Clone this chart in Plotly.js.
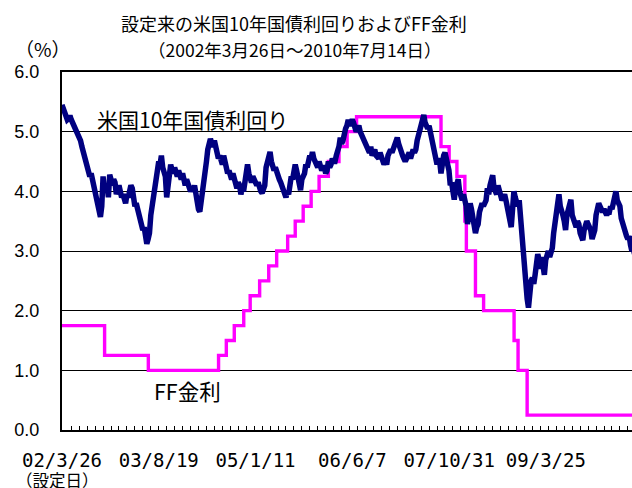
<!DOCTYPE html>
<html><head><meta charset="utf-8">
<script src="https://cdn.plot.ly/plotly-3.0.1.min.js"></script>
<style>html,body{margin:0;padding:0;overflow:hidden;background:#fff;width:632px;height:488px}</style>
</head><body><div id="chart" style="width:640px;height:488px"></div>
<script>
// US 10-year treasury yield, weekly readings from 2002-03-26
const yieldStart = '2002-03-26';
const yieldStepDays = 7;
const yield10y = [
5.45,5.38,5.3,5.25,5.2,5.22,5.27,5.2,5.15,5.12,5.1,5.05,5.0,4.92,4.85,4.75,4.65,4.6,4.5,4.4,
4.3,4.25,4.3,4.2,4.05,3.95,3.8,3.7,3.62,3.57,3.75,4.25,4.0,4.05,4.1,3.9,4.28,4.2,4.1,4.2,
4.15,3.95,4.05,4.1,4.0,3.9,3.95,3.85,3.8,3.95,3.9,4.0,4.1,4.05,3.95,3.75,3.8,3.7,3.6,3.5,
3.4,3.35,3.4,3.3,3.12,3.2,3.3,3.6,3.75,3.95,4.2,4.3,4.4,4.5,4.45,4.6,4.4,4.35,4.25,3.9,
4.05,4.2,4.45,4.35,4.3,4.4,4.35,4.25,4.35,4.3,4.2,4.3,4.2,4.1,4.2,4.15,4.05,4.0,4.05,4.0,
4.1,3.95,3.8,3.7,3.66,3.8,3.95,4.2,4.35,4.5,4.7,4.8,4.88,4.8,4.75,4.85,4.7,4.6,4.55,4.6,
4.5,4.45,4.6,4.5,4.4,4.3,4.35,4.25,4.2,4.3,4.2,4.1,4.05,4.15,4.1,3.95,4.05,4.0,4.2,4.35,
4.45,4.3,4.25,4.15,4.25,4.2,4.15,4.1,4.15,4.05,4.0,3.97,4.05,4.1,4.4,4.5,4.55,4.66,4.5,4.45,
4.35,4.4,4.3,4.25,4.2,4.15,4.1,4.0,3.95,3.9,4.0,3.95,4.1,4.25,4.2,4.35,4.45,4.35,4.25,4.1,
4.02,4.2,4.25,4.3,4.45,4.4,4.5,4.6,4.55,4.66,4.55,4.5,4.45,4.4,4.5,4.45,4.35,4.4,4.4,4.3,
4.35,4.5,4.4,4.45,4.55,4.5,4.5,4.6,4.65,4.75,4.9,4.8,4.85,5.0,5.05,5.1,5.2,5.1,5.15,5.2,
5.15,5.1,5.0,5.05,5.1,5.0,4.95,4.9,4.85,4.8,4.75,4.7,4.65,4.75,4.6,4.65,4.7,4.6,4.55,4.55,
4.65,4.6,4.5,4.45,4.5,4.45,4.6,4.65,4.7,4.65,4.7,4.75,4.85,4.9,4.8,4.7,4.65,4.6,4.55,4.5,
4.55,4.6,4.65,4.55,4.6,4.7,4.65,4.7,4.85,4.95,5.0,5.15,5.2,5.28,5.15,5.1,5.05,5.1,5.0,4.9,
4.75,4.7,4.6,4.45,4.55,4.5,4.3,4.5,4.6,4.65,4.55,4.45,4.35,4.1,4.15,4.0,3.86,4.05,4.1,4.2,
4.0,3.95,3.85,3.95,3.85,3.75,3.45,3.6,3.8,3.7,3.6,3.5,3.3,3.4,3.45,3.65,3.7,3.8,3.75,3.8,
3.85,4.05,3.95,4.1,4.2,4.27,4.05,4.0,3.95,4.1,4.0,3.95,3.85,3.9,3.95,3.85,3.75,3.6,3.55,3.4,
3.7,4.0,3.9,3.8,3.75,3.85,3.55,3.2,2.95,2.7,2.5,2.2,2.05,2.4,2.5,2.55,2.45,2.6,2.8,2.95,
2.85,2.7,2.9,2.75,2.6,2.85,2.95,3.0,2.9,2.95,3.05,3.3,3.45,3.6,3.8,3.95,3.75,3.7,3.6,3.5,
3.35,3.6,3.7,3.8,3.86,3.6,3.55,3.5,3.4,3.5,3.45,3.3,3.25,3.18,3.35,3.4,3.5,3.45,3.4,3.35,
3.2,3.3,3.35,3.6,3.7,3.8,3.75,3.7,3.65,3.7,3.65,3.6,3.65,3.65,3.75,3.7,3.8,3.95,4.0,3.85,
3.8,3.75,3.55,3.45,3.4,3.3,3.25,3.2,3.25,3.1,3.0,3.05,2.95
];

// FF rate (target) change dates and levels
const ffDates = ['2002-03-26','2002-11-06','2003-06-25','2004-06-30','2004-08-10','2004-09-21','2004-11-10',
  '2004-12-14','2005-02-02','2005-03-22','2005-05-03','2005-06-30','2005-08-09','2005-09-20','2005-11-01',
  '2005-12-13','2006-01-31','2006-03-28','2006-05-10','2006-06-29','2007-09-18','2007-10-31','2007-12-11',
  '2008-01-22','2008-01-30','2008-03-18','2008-04-30','2008-10-08','2008-10-29','2008-12-16','2010-07-14'];
const ffRates = [1.75,1.25,1.0,1.25,1.5,1.75,2.0,2.25,2.5,2.75,3.0,3.25,3.5,3.75,4.0,4.25,4.5,4.75,5.0,5.25,
  4.75,4.5,4.25,3.5,3.0,2.25,2.0,1.5,1.0,0.25,0.25];

const tickDates = ['2002-03-26','2003-08-19','2005-01-11','2006-06-07','2007-10-31','2009-03-25'];
const tickLabels = ['02/3/26','03/8/19','05/1/11','06/6/7','07/10/31','09/3/25'];
const yTicks = [0,1,2,3,4,5,6];

const DAY = 86400000;
function addDays(s, n){ const d = new Date(s + 'T00:00:00Z'); return new Date(d.getTime() + n*DAY).toISOString().slice(0,10); }
const yieldDates = yield10y.map((v,i)=>addDays(yieldStart, i*yieldStepDays));
const minorTicks = [];
for (let k=0; k<80; k++){ const d = addDays('2002-05-14', k*42); if (d < '2010-07-14') minorTicks.push(d); }

const FONT = '"Noto Sans CJK JP", "Noto Sans", sans-serif';
const L = 62, R = 636, T = 72, B = 430;
const px = X => (X - L)/(R - L);
const py = Y => (B - Y)/(B - T);

const traces = [
  {x: ffDates, y: ffRates, type:'scatter', mode:'lines', line:{color:'#FF00FF', width:3.4, shape:'hv'}, hoverinfo:'skip'},
  {x: yieldDates, y: yield10y, type:'scatter', mode:'lines', line:{color:'#000080', width:5.5}, hoverinfo:'skip'}
];

const ann = (text, X, Y, size, xanchor, yanchor) => ({text, xref:'paper', yref:'paper', x:px(X), y:py(Y),
  xanchor: xanchor||'center', yanchor: yanchor||'middle', showarrow:false, font:{family:FONT, size, color:'#000'}});

const layout = {
  width:640, height:488, margin:{l:L, r:640-R, t:T, b:488-B},
  paper_bgcolor:'#fff', plot_bgcolor:'#fff', showlegend:false,
  font:{family:FONT, color:'#000'},
  xaxis:{type:'date', range:['2002-03-26','2010-07-14'], tickmode:'array', tickvals:tickDates, ticktext:tickLabels,
    ticks:'', showgrid:false, zeroline:false, showline:true, mirror:true, linewidth:2, linecolor:'#000',
    tickfont:{family:'"DejaVu Sans Mono", monospace', size:19, color:'#000'}, ticklabelstandoff:12,
    minor:{tickmode:'array', tickvals:minorTicks, ticks:'inside', ticklen:4, tickwidth:1, tickcolor:'#000', showgrid:false}},
  yaxis:{range:[0,6], tickmode:'array', tickvals:yTicks, tickformat:'.1f', ticks:'', showgrid:true, gridcolor:'#000', gridwidth:1,
    zeroline:false, showline:true, mirror:true, linewidth:2, linecolor:'#000',
    tickfont:{family:'"Liberation Sans", Arial, sans-serif', size:18, color:'#000'}, ticklabelstandoff:17},
  annotations:[
    ann('設定来の米国10年国債利回りおよびFF金利', 294, 22.5, 18),
    ann('（2002年3月26日～2010年7月14日）', 294, 49, 17.5),
    ann('（%）', 43, 48.5, 19),
    ann('米国10年国債利回り', 192, 118.5, 21),
    ann('FF金利', 187, 390.5, 21.5),
    ann('（設定日）', 14, 466, 16.5, 'left', 'top')
  ]
};
Plotly.newPlot('chart', traces, layout, {staticPlot:true, displayModeBar:false});
</script></body></html>
